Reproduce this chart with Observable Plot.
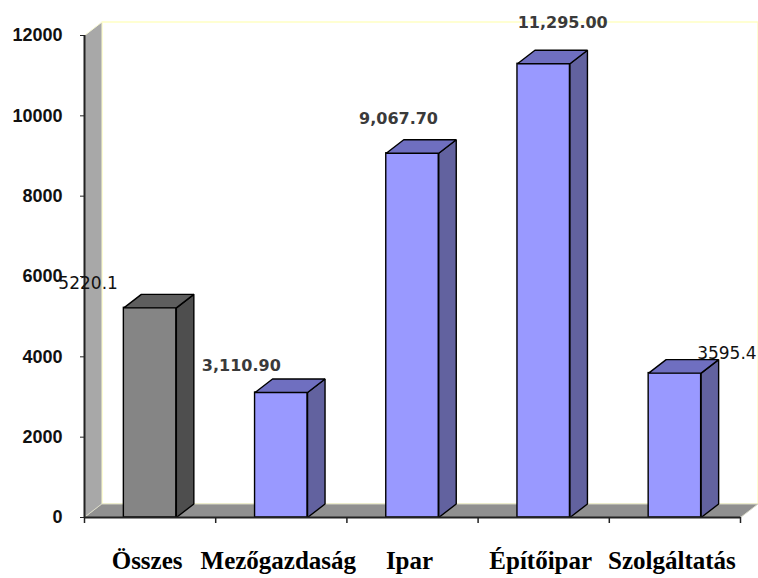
<!DOCTYPE html>
<html>
<head>
<meta charset="utf-8">
<script src="https://cdn.jsdelivr.net/npm/d3@7"></script>
<script src="https://cdn.jsdelivr.net/npm/@observablehq/plot@0.6"></script>
<style>
  html, body { margin: 0; padding: 0; background: #fff; }
</style>
</head>
<body>
<div id="chart"></div>
<script>
// Sectors and their values
const categories = ["Összes", "Mezőgazdaság", "Ipar", "Építőipar", "Szolgáltatás"];
const values = [5220.1, 3110.9, 9067.7, 11295.0, 3595.4];
const valueLabels = ["5220.1", "3,110.90", "9,067.70", "11,295.00", "3595.4"];
const yTicks = [0, 2000, 4000, 6000, 8000, 10000, 12000];

// Layout
const width = 758, height = 578;
const margin = {top: 35, right: 18, bottom: 61, left: 84};
const yMax = 12000;
const n = categories.length;

// Pseudo-3D depth, given in pixels and converted into data units
const depthPx = {x: 17.5, y: 13.5};
const DX = depthPx.x * n / (width - margin.left - margin.right);
const DY = depthPx.y * yMax / (height - margin.top - margin.bottom);
const halfBar = 0.2;

// Colours: the first bar (total) grey, the sectors periwinkle
const palette = [
  {front: "#858585", top: "#5e5e5e", side: "#4e4e4e"},
  {front: "#9999ff", top: "#6f6fc0", side: "#62629f"}
];

const bars = values.map((v, i) => {
  const c = palette[i === 0 ? 0 : 1];
  const x1 = i + 0.5 - halfBar, x2 = i + 0.5 + halfBar;
  return {
    i, v, c, x1, x2,
    side: [[x2, 0], [x2, v], [x2 + DX, v + DY], [x2 + DX, DY]],
    top: [[x1, v], [x2, v], [x2 + DX, v + DY], [x1 + DX, v + DY]]
  };
});

// Walls and floor of the 3D frame
const leftWall = [[0, 0], [0, yMax], [DX, yMax + DY], [DX, DY]];
const floor = [[0, 0], [n, 0], [n + DX, DY], [DX, DY]];
const backEdges = [[DX, DY], [DX, yMax + DY], [n + DX, yMax + DY], [n + DX, DY]];

const poly = (pts, fill, stroke, strokeWidth = 1) =>
  Plot.line(pts, {x: d => d[0], y: d => d[1], curve: "linear-closed", fill, stroke, strokeWidth, strokeLinejoin: "miter"});

// Per-label nudges (pixels) relative to the front top of each bar
const labelNudge = [[-62, -24], [-40, -27], [-14, -34], [19, -41], [52, -20]];

const marks = [
  // back wall
  poly(backEdges, "#ffffff", "#ffffc4", 1.5),
  // left wall and floor
  poly(leftWall, "#a8a8a8", "#fbfbd6", 1),
  poly(floor, "#909090", "#d8d8c8", 1),
  // bars: front, side and top faces
  ...bars.flatMap(b => [
    Plot.rect([b], {x1: "x1", x2: "x2", y1: 0, y2: "v", fill: b.c.front, stroke: "#000", strokeWidth: 1.4}),
    poly(b.side, b.c.side, "#000", 1.4),
    poly(b.top, b.c.top, "#000", 1.4)
  ]),
  // axes
  Plot.ruleX([0], {y1: 0, y2: yMax, stroke: "#222", strokeWidth: 2}),
  Plot.ruleY([0], {x1: 0, x2: n, stroke: "#222", strokeWidth: 2}),
  Plot.axisY({
    ticks: yTicks, tickSize: 4, tickPadding: 18, tickFormat: d => String(d), label: null,
    fontSize: 18, fontWeight: "bold", fontFamily: "Liberation Sans, Arial, sans-serif", fill: "#111", stroke: "#222"
  }),
  Plot.axisX({ticks: d3.range(n + 1), tickSize: 6, tickFormat: () => "", label: null, stroke: "#222", strokeWidth: 1.5}),
  // category labels
  Plot.text(categories, {
    x: (d, i) => i + 0.5, y: 0, text: d => d, dx: -3, dy: 43,
    fontSize: 25, fontWeight: "bold", fontFamily: "Liberation Serif, Times New Roman, serif", fill: "#000"
  }),
  // value labels
  ...bars.map(b => {
    const label = valueLabels[b.i];
    const grouped = label.includes(",");
    return Plot.text([b], {
      x: d => d.i + 0.5, y: "v", text: () => label,
      dx: labelNudge[b.i][0], dy: labelNudge[b.i][1],
      fontSize: grouped ? 16 : 17, fontWeight: grouped ? "bold" : "normal",
      fontFamily: "DejaVu Sans, Verdana, sans-serif", fill: grouped ? "#3a3a3a" : "#111"
    });
  })
];

const chart = Plot.plot({
  width, height,
  marginTop: margin.top, marginRight: margin.right, marginBottom: margin.bottom, marginLeft: margin.left,
  x: {type: "linear", domain: [0, n], axis: null},
  y: {type: "linear", domain: [0, yMax], axis: null},
  style: {background: "#fff", overflow: "visible"},
  marks
});

document.getElementById("chart").appendChild(chart);
</script>
</body>
</html>
